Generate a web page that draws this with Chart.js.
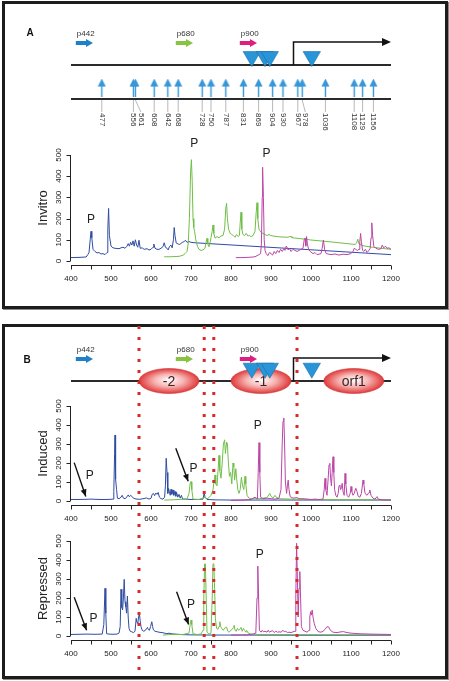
<!DOCTYPE html>
<html>
<head>
<meta charset="utf-8">
<script src="https://cdn.jsdelivr.net/npm/chart.js@4.4.1/dist/chart.umd.min.js"></script>
<style>
  html, body { margin: 0; padding: 0; background: #fff; }
  body { position: relative; width: 449px; height: 681px; overflow: hidden; }
  .frame { position: absolute; box-sizing: border-box; border: 3px solid #1c1c1c; box-shadow: 1px 1px 0 #8a8a8a; }
  canvas { position: absolute; left: 0; }
</style>
</head>
<body>
<div class="frame" style="left:2px;top:1px;width:446px;height:308px"></div>
<div class="frame" style="left:2px;top:324px;width:446px;height:355px"></div>
<script>
const FONT = '"Liberation Sans", Arial, Helvetica, sans-serif';
const BLUE = 'rgb(48,76,160)', GREEN = 'rgb(112,190,72)', MAGENTA = 'rgb(186,70,166)';

// axes
const xTicks = [400, 500, 600, 700, 800, 900, 1000, 1100, 1200];
const xMinorTicks = [400, 450, 500, 550, 600, 650, 700, 750, 800, 850, 900, 950, 1000, 1050, 1100, 1150, 1200];
const yTicks = [0, 100, 200, 300, 400, 500];

// schematic (positions in bp)
const primerNames = ['p442', 'p680', 'p900'];
const primerStart = [412, 662, 822];
const primerEnd = [455, 705, 865];
const primerColors = ['#1f80c9', '#88c441', '#df1f80'];
const tssPos = 955;
const triangleSites = [852, 885, 897, 1002];
const siteLabels = [477, 556, 561, 608, 642, 668, 728, 750, 787, 831, 869, 904, 930, 967, 978, 1036, 1108, 1129, 1156];
const nucleosomeLabels = ['-2', '-1', 'orf1'];
const nucleosomeStart = [570, 800, 1032];
const nucleosomeEnd = [720, 950, 1182];
const dottedSites = [570, 733, 757, 965];

// Invitro traces [bp, signal]
const invitroBlue = [[400,16],[420,17],[438,19],[442,30],[445,40],[448,100],[450,140],[452,110],[455,55],[460,45],[465,38],[470,40],[475,33],[480,35],[485,30],[490,40],[492,150],[494,248],[496,120],[500,70],[505,62],[510,60],[520,58],[525,62],[530,65],[535,60],[540,70],[543,82],[546,70],[549,88],[552,75],[555,95],[558,70],[561,100],[564,75],[567,65],[570,98],[573,60],[578,62],[583,55],[590,58],[595,52],[600,55],[605,65],[607,80],[610,60],[615,55],[620,55],[625,60],[630,68],[633,86],[636,65],[640,60],[643,52],[646,68],[650,75],[653,62],[656,100],[658,158],[660,120],[663,85],[668,80],[672,78],[678,88],[682,90],[686,98],[690,88],[695,92],[700,88],[710,86],[1200,30]];
const invitroGreen = [[633,20],[650,20],[670,22],[680,27],[685,35],[690,45],[693,80],[696,200],[699,420],[701,478],[703,380],[705,200],[707,158],[709,140],[712,100],[716,70],[720,55],[725,50],[730,52],[735,60],[738,90],[740,107],[742,80],[745,67],[748,90],[750,110],[753,140],[755,170],[757,130],[760,108],[765,115],[770,110],[775,118],[780,120],[784,150],[787,250],[789,272],[791,200],[794,150],[798,130],[802,125],[806,120],[810,112],[814,125],[818,115],[821,120],[823,180],[825,230],[827,150],[830,125],[834,120],[838,130],[842,118],[846,120],[850,115],[855,120],[860,140],[863,230],[865,275],[867,200],[870,150],[875,135],[880,130],[885,125],[890,120],[895,125],[900,120],[905,118],[920,114],[940,112],[950,116],[952,110],[980,104],[1000,99],[1050,90],[1100,80],[1110,78],[1114,85],[1117,103],[1120,80],[1130,72],[1150,66],[1175,60],[1200,55]];
const invitroMagenta = [[812,16],[830,16],[850,18],[860,20],[865,25],[870,30],[874,35],[876,80],[878,300],[879,442],[881,300],[883,100],[885,50],[888,35],[892,25],[896,40],[900,35],[904,28],[908,45],[912,35],[916,50],[920,40],[924,55],[928,45],[932,58],[935,50],[938,70],[940,65],[943,52],[946,60],[950,45],[955,55],[960,50],[965,45],[970,50],[975,55],[980,60],[983,100],[985,108],[987,70],[989,115],[991,80],[994,55],[998,45],[1005,35],[1010,40],[1015,30],[1020,32],[1025,35],[1028,60],[1031,99],[1034,55],[1038,35],[1045,32],[1050,30],[1060,33],[1070,28],[1080,32],[1090,30],[1100,35],[1105,45],[1108,60],[1112,55],[1116,50],[1120,55],[1122,90],[1124,130],[1126,90],[1129,50],[1132,45],[1136,55],[1140,40],[1144,48],[1148,60],[1150,110],[1152,180],[1154,120],[1157,70],[1162,60],[1168,55],[1175,58],[1178,75],[1182,62],[1186,70],[1190,60],[1195,62],[1200,55]];

// Induced traces
const inducedBlue = [[400,8],[420,8],[440,9],[450,10],[470,8],[490,8],[500,9],[505,10],[507,50],[509,250],[510,347],[511,250],[512,114],[514,60],[516,15],[520,12],[525,20],[528,30],[531,15],[535,12],[540,22],[543,32],[546,22],[549,30],[552,25],[556,15],[560,12],[565,10],[572,9],[580,12],[589,16],[595,10],[600,14],[603,35],[606,40],[609,28],[612,42],[615,35],[618,45],[621,20],[625,12],[630,10],[634,20],[636,80],[638,225],[640,150],[642,40],[644,66],[646,50],[648,30],[650,62],[652,35],[655,58],[657,30],[660,50],[662,25],[664,45],[667,20],[670,35],[673,15],[676,30],[679,10],[685,10],[700,8],[720,8],[730,10],[733,45],[735,20],[740,8],[760,6],[800,5],[900,5],[1000,5],[1200,5]];
const inducedGreen = [[633,5],[650,6],[670,8],[690,10],[695,40],[698,95],[700,102],[702,60],[705,10],[720,8],[730,15],[735,20],[740,12],[745,18],[750,30],[755,60],[758,110],[760,137],[762,90],[765,80],[768,170],[770,240],[772,160],[775,120],[778,200],[781,300],[784,322],[786,250],[789,310],[791,300],[793,220],[796,130],[799,150],[802,90],[805,200],[807,180],[809,110],[812,170],[814,120],[817,60],[820,40],[823,60],[826,125],[829,80],[832,60],[835,130],[837,90],[840,30],[845,15],[850,12],[860,15],[870,12],[890,18],[897,40],[900,25],[905,15],[910,30],[913,20],[920,12],[950,10],[1000,8],[1100,7],[1200,6]];
const inducedMagenta = [[800,3],[830,5],[850,8],[860,20],[863,15],[866,10],[868,150],[870,307],[872,150],[874,20],[880,12],[890,15],[900,12],[910,10],[920,15],[925,60],[928,300],[930,420],[932,437],[934,300],[936,100],[939,40],[941,80],[943,110],[945,60],[948,23],[955,15],[965,18],[970,12],[980,12],[990,10],[1000,8],[1010,10],[1020,8],[1030,10],[1033,60],[1035,119],[1037,60],[1040,30],[1043,120],[1045,190],[1047,198],[1049,120],[1051,80],[1053,150],[1055,233],[1057,150],[1059,60],[1062,30],[1065,20],[1068,40],[1070,80],[1072,84],[1074,60],[1076,70],[1078,93],[1080,50],[1083,30],[1085,145],[1087,90],[1090,30],[1094,20],[1098,40],[1100,76],[1102,50],[1105,30],[1108,40],[1112,67],[1115,50],[1118,25],[1122,20],[1126,40],[1130,110],[1132,90],[1135,40],[1140,30],[1145,45],[1147,58],[1150,30],[1155,15],[1160,10],[1165,23],[1168,10],[1180,6],[1200,5]];

// Repressed traces
const repressedBlue = [[400,8],[420,9],[440,10],[460,9],[478,10],[482,60],[485,251],[487,120],[489,12],[495,10],[505,9],[515,10],[520,15],[523,50],[525,246],[527,150],[529,137],[531,200],[533,298],[535,180],[537,154],[539,120],[541,210],[543,100],[545,40],[548,25],[552,22],[556,18],[560,25],[563,93],[565,70],[567,67],[569,100],[571,119],[573,80],[575,49],[578,30],[582,25],[586,30],[589,40],[591,45],[593,35],[596,30],[599,50],[602,75],[604,50],[606,32],[610,25],[620,20],[630,17],[640,12],[645,15],[650,12],[660,10],[680,7],[700,6],[750,5],[800,5],[1000,4],[1200,4]];
const repressedGreen = [[630,5],[650,8],[680,8],[695,15],[698,60],[700,84],[702,60],[705,12],[715,8],[725,10],[730,30],[732,200],[734,379],[736,380],[738,200],[740,20],[745,10],[750,15],[753,200],[755,379],[757,380],[759,250],[761,90],[764,40],[767,35],[770,50],[772,75],[774,50],[777,40],[780,30],[783,35],[786,45],[789,47],[792,25],[795,20],[800,30],[803,35],[806,45],[808,56],[810,30],[813,25],[816,40],[819,30],[822,35],[825,45],[828,25],[831,40],[834,30],[837,20],[839,30],[843,15],[850,10],[870,8],[900,8],[1000,7],[1200,6]];
const repressedMagenta = [[800,5],[840,6],[855,10],[862,15],[865,200],[867,368],[869,200],[871,30],[875,20],[878,30],[881,22],[885,25],[890,20],[893,30],[896,20],[900,25],[904,28],[908,18],[912,25],[916,20],[920,22],[925,20],[930,30],[933,22],[937,25],[941,18],[945,20],[950,18],[955,22],[960,25],[962,200],[964,488],[966,300],[968,100],[970,250],[972,339],[974,200],[976,49],[980,30],[985,25],[990,20],[995,30],[997,100],[999,128],[1001,110],[1003,137],[1005,100],[1008,67],[1012,40],[1018,23],[1025,20],[1030,25],[1035,35],[1040,49],[1044,48],[1048,31],[1055,20],[1065,18],[1075,22],[1081,23],[1090,18],[1100,15],[1120,12],[1150,10],[1200,8]];

// "P" labels [bp, signal] and pointer arrows [bp0, signal0, bp1, signal1]
const invitroP = [[450,193],[708,555],[889,505]];
const inducedP = [[447,132],[706,171],[867,395]];
const inducedArrows = [[408,202,437,24],[662,277,693,104]];
const repressedP = [[456,93],[700,163],[872,426]];
const repressedArrows = [[408,204,439,30],[664,233,694,60]];

const X_MIN = 400, X_MAX = 1200, PAD_L = 71, PAD_R = 58;
// schematic rows (canvas px)
const ROW_LABEL = 24, ROW_PRIMER = 33, ROW_TRI = 43, ROW_BACK = 55, ROW_SITES = 89;

function addCanvas(top, h) {
  const c = document.createElement('canvas');
  c.width = 449; c.height = h;
  c.style.top = top + 'px';
  document.body.appendChild(c);
  return c;
}

function arrowHead(ctx, x0, y0, x1, y1, len, half) {
  const a = Math.atan2(y1 - y0, x1 - x0);
  ctx.beginPath();
  ctx.moveTo(x1, y1);
  ctx.lineTo(x1 - len * Math.cos(a) + half * Math.sin(a), y1 - len * Math.sin(a) - half * Math.cos(a));
  ctx.lineTo(x1 - len * Math.cos(a) - half * Math.sin(a), y1 - len * Math.sin(a) + half * Math.cos(a));
  ctx.closePath();
  ctx.fill();
}

const rAxes = {
  id: 'rAxes',
  afterDraw(chart, args, o) {
    const { ctx, scales: { x, y } } = chart;
    const ay = Math.round(y.getPixelForValue(0)) + 4.5;
    const ax = Math.round(x.getPixelForValue(X_MIN)) - 0.5;
    ctx.save();
    ctx.strokeStyle = '#222'; ctx.fillStyle = '#222'; ctx.lineWidth = 1;
    ctx.beginPath();
    ctx.moveTo(x.getPixelForValue(xMinorTicks[0]), ay);
    ctx.lineTo(x.getPixelForValue(xMinorTicks[xMinorTicks.length - 1]), ay);
    xMinorTicks.forEach(v => { const p = Math.round(x.getPixelForValue(v)) + 0.5; ctx.moveTo(p, ay); ctx.lineTo(p, ay + 4); });
    ctx.moveTo(ax, y.getPixelForValue(yTicks[0]));
    ctx.lineTo(ax, y.getPixelForValue(yTicks[yTicks.length - 1]));
    yTicks.forEach(v => { const p = Math.round(y.getPixelForValue(v)) + 0.5; ctx.moveTo(ax, p); ctx.lineTo(ax - 4, p); });
    ctx.stroke();

    ctx.font = '8px ' + FONT; ctx.textAlign = 'center'; ctx.textBaseline = 'middle';
    xTicks.forEach(v => ctx.fillText(String(v), x.getPixelForValue(v), ay + 13));
    yTicks.forEach(v => {
      ctx.save(); ctx.translate(ax - 12, y.getPixelForValue(v)); ctx.rotate(-Math.PI / 2);
      ctx.fillText(String(v), 0, 0); ctx.restore();
    });

    ctx.font = '13px ' + FONT;
    ctx.save();
    ctx.translate(43, (y.getPixelForValue(0) + y.getPixelForValue(500)) / 2);
    ctx.rotate(-Math.PI / 2);
    ctx.fillText(o.title, 0, 0);
    ctx.restore();

    ctx.font = '12px ' + FONT;
    o.pLabels.forEach(([bx, v]) => ctx.fillText('P', x.getPixelForValue(bx), y.getPixelForValue(v)));

    ctx.strokeStyle = '#111'; ctx.fillStyle = '#111'; ctx.lineWidth = 1.4;
    o.arrows.forEach(([b0, v0, b1, v1]) => {
      const x0 = x.getPixelForValue(b0), y0 = y.getPixelForValue(v0);
      const x1 = x.getPixelForValue(b1), y1 = y.getPixelForValue(v1);
      ctx.beginPath(); ctx.moveTo(x0, y0); ctx.lineTo(x1, y1); ctx.stroke();
      arrowHead(ctx, x0, y0, x1, y1, 7, 3);
    });
    ctx.restore();
  }
};

function traceChart(top, h, padTop, padBottom, title, series, pLabels, arrows) {
  return new Chart(addCanvas(top, h), {
    type: 'line',
    data: {
      datasets: series.map(s => ({
        data: s.pts.map(p => ({ x: p[0], y: p[1] })),
        borderColor: s.color, borderWidth: 1, pointRadius: 0, tension: 0, fill: false
      }))
    },
    options: {
      responsive: false, animation: false, events: [],
      layout: { padding: { left: PAD_L, right: PAD_R, top: padTop, bottom: padBottom } },
      scales: {
        x: { type: 'linear', min: X_MIN, max: X_MAX, display: false },
        y: { type: 'linear', min: 0, max: 500, display: false }
      },
      plugins: { legend: { display: false }, tooltip: { enabled: false }, rAxes: { title, pLabels, arrows } }
    },
    plugins: [rAxes]
  });
}

function siteArrowImage(color) {
  const c = document.createElement('canvas');
  c.width = 9; c.height = 18;
  const g = c.getContext('2d');
  g.fillStyle = color;
  g.beginPath(); g.moveTo(4.5, 0); g.lineTo(8.5, 8); g.lineTo(0.5, 8); g.closePath(); g.fill();
  g.fillRect(3.8, 7, 1.4, 11);
  return c;
}

const schematic = {
  id: 'schematic',
  beforeDatasetsDraw(chart, args, o) {
    const { ctx, scales: { x } } = chart;
    const px = v => x.getPixelForValue(v);
    ctx.save();
    ctx.strokeStyle = '#2a2a2a'; ctx.lineWidth = 1.8;
    o.backbones.forEach(r => { ctx.beginPath(); ctx.moveTo(px(X_MIN), r); ctx.lineTo(px(X_MAX), r); ctx.stroke(); });

    if (o.nucleosomes) {
      nucleosomeLabels.forEach((lab, i) => {
        const x0 = px(nucleosomeStart[i]), x1 = px(nucleosomeEnd[i]);
        const cx = (x0 + x1) / 2, rx = (x1 - x0) / 2, ry = 12.5;
        ctx.save();
        ctx.translate(cx, ROW_BACK);
        ctx.scale(rx / ry, 1);
        const g = ctx.createRadialGradient(0, -1, 1, 0, 0, ry);
        g.addColorStop(0, '#fff4f4');
        g.addColorStop(0.45, '#f6b3b1');
        g.addColorStop(1, '#e0393a');
        ctx.fillStyle = g;
        ctx.beginPath(); ctx.arc(0, 0, ry, 0, Math.PI * 2); ctx.fill();
        ctx.restore();
        ctx.save();
        ctx.beginPath(); ctx.ellipse(cx, ROW_BACK, rx, ry, 0, 0, Math.PI * 2);
        ctx.strokeStyle = '#c93434'; ctx.lineWidth = 0.6; ctx.stroke();
        ctx.restore();
        ctx.fillStyle = '#3a2626';
        ctx.font = '14px ' + FONT; ctx.textAlign = 'center'; ctx.textBaseline = 'middle';
        ctx.fillText(lab, cx, ROW_BACK + 1);
      });
    }

    // primers
    ctx.font = '8px ' + FONT; ctx.textAlign = 'left'; ctx.textBaseline = 'middle';
    primerNames.forEach((n, i) => {
      const x0 = px(primerStart[i]), x1 = px(primerEnd[i]);
      ctx.fillStyle = '#333';
      ctx.fillText(n, x0 + 1, ROW_LABEL);
      ctx.fillStyle = primerColors[i];
      ctx.fillRect(x0, ROW_PRIMER - 2, x1 - x0 - 6, 4);
      ctx.beginPath(); ctx.moveTo(x1, ROW_PRIMER); ctx.lineTo(x1 - 7, ROW_PRIMER - 4); ctx.lineTo(x1 - 7, ROW_PRIMER + 4); ctx.closePath(); ctx.fill();
    });

    // transcription start
    const tx = Math.round(px(tssPos)) + 0.5, top = ROW_LABEL + 8;
    ctx.strokeStyle = '#111'; ctx.fillStyle = '#111'; ctx.lineWidth = 1.5;
    ctx.beginPath(); ctx.moveTo(tx, ROW_BACK); ctx.lineTo(tx, top); ctx.lineTo(px(X_MAX) - 7, top); ctx.stroke();
    arrowHead(ctx, tx, top, px(X_MAX), top, 9, 4);

    // panel letter
    ctx.font = 'bold 10px ' + FONT; ctx.textAlign = 'center';
    ctx.fillText(o.letter, o.letterX, o.letterY);
    ctx.restore();
  },
  afterDraw(chart, args, o) {
    if (!o.sites) return;
    const { ctx, scales: { x } } = chart;
    const ax = siteLabels.map(v => x.getPixelForValue(v));
    const lx = [];
    ax.forEach((p, i) => { lx[i] = i && p - lx[i - 1] < 7.5 ? lx[i - 1] + 7.5 : p; });
    ctx.save();
    ctx.strokeStyle = '#9a9a9a'; ctx.lineWidth = 0.7;
    ax.forEach((p, i) => { ctx.beginPath(); ctx.moveTo(p, ROW_SITES + 1); ctx.lineTo(lx[i], ROW_SITES + 13); ctx.stroke(); });
    ctx.fillStyle = '#333'; ctx.font = '8px ' + FONT; ctx.textAlign = 'left'; ctx.textBaseline = 'middle';
    siteLabels.forEach((v, i) => {
      ctx.save(); ctx.translate(lx[i], ROW_SITES + 14); ctx.rotate(Math.PI / 2);
      ctx.fillText(String(v), 0, 0); ctx.restore();
    });
    ctx.restore();
  }
};

function schematicChart(top, h, opts) {
  const datasets = [{
    data: triangleSites.map(v => ({ x: v, y: ROW_TRI })),
    pointStyle: 'triangle', rotation: 180, pointRadius: 10,
    backgroundColor: '#2895d8', borderColor: '#1b6ea6', borderWidth: 0.6
  }];
  if (opts.sites) {
    datasets.push({
      data: siteLabels.map(v => ({ x: v, y: ROW_SITES - 9 })),
      pointStyle: siteArrowImage('#3797d8'), pointRadius: 5
    });
  }
  return new Chart(addCanvas(top, h), {
    type: 'scatter',
    data: { datasets },
    options: {
      responsive: false, animation: false, events: [],
      layout: { padding: { left: PAD_L, right: PAD_R, top: 0, bottom: 0 } },
      scales: {
        x: { type: 'linear', min: X_MIN, max: X_MAX, display: false },
        y: { type: 'linear', min: 0, max: h, reverse: true, display: false }
      },
      plugins: { legend: { display: false }, tooltip: { enabled: false }, schematic: opts }
    },
    plugins: [schematic]
  });
}

// Panel A
schematicChart(10, 130, { letter: 'A', letterX: 30, letterY: 23, backbones: [ROW_BACK, ROW_SITES], sites: true, nucleosomes: false });
traceChart(130, 175, 25, 44, 'Invitro',
  [{ pts: invitroMagenta, color: MAGENTA }, { pts: invitroGreen, color: GREEN }, { pts: invitroBlue, color: BLUE }],
  invitroP, []);

// Panel B
schematicChart(326, 80, { letter: 'B', letterX: 27, letterY: 34, backbones: [ROW_BACK], sites: false, nucleosomes: true });
traceChart(395, 140, 11, 34, 'Induced',
  [{ pts: inducedMagenta, color: MAGENTA }, { pts: inducedGreen, color: GREEN }, { pts: inducedBlue, color: BLUE }],
  inducedP, inducedArrows);
traceChart(530, 145, 11, 39, 'Repressed',
  [{ pts: repressedMagenta, color: MAGENTA }, { pts: repressedGreen, color: GREEN }, { pts: repressedBlue, color: BLUE }],
  repressedP, repressedArrows);

// red dotted guide lines across panel B
new Chart(addCanvas(326, 352), {
  type: 'line',
  data: {
    datasets: dottedSites.map(s => ({
      data: [{ x: s, y: 1 }, { x: s, y: 0 }],
      borderColor: '#d62b2b', borderWidth: 3, borderDash: [3, 8], borderCapStyle: 'butt', pointRadius: 0
    }))
  },
  options: {
    responsive: false, animation: false, events: [],
    layout: { padding: { left: PAD_L, right: PAD_R, top: 0, bottom: 0 } },
    scales: {
      x: { type: 'linear', min: X_MIN, max: X_MAX, display: false },
      y: { type: 'linear', min: 0, max: 1, display: false }
    },
    plugins: { legend: { display: false }, tooltip: { enabled: false } }
  }
});
</script>
</body>
</html>
